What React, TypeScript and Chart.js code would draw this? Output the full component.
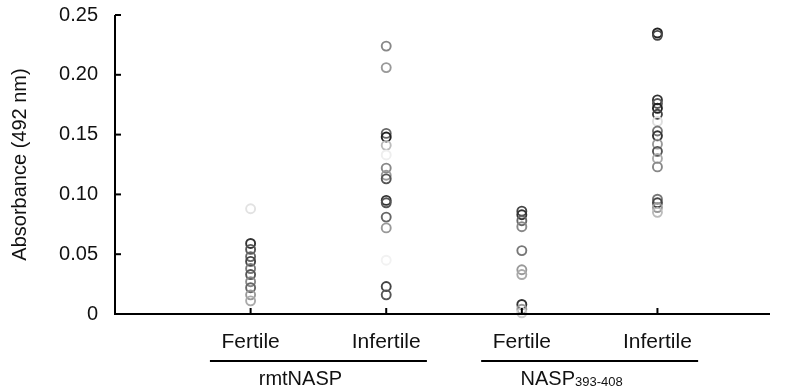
import React, { useEffect, useRef } from 'react';
import { Chart, registerables } from 'chart.js';

Chart.register(...registerables);

// ---- data ----
const categories = ['Fertile', 'Infertile', 'Fertile', 'Infertile'];
const groupNames = ['rmtNASP', 'NASP'];
const groupSubscripts = ['', '393-408'];
const yTickValues = [0, 0.05, 0.1, 0.15, 0.2, 0.25];
const yTitle = 'Absorbance (492 nm)';

const fertileRmt = [0.088, 0.059, 0.054, 0.048, 0.044, 0.038, 0.033, 0.027, 0.022, 0.016, 0.011];
const infertileRmt = [0.224, 0.206, 0.151, 0.148, 0.141, 0.133, 0.122, 0.116, 0.113, 0.095, 0.093, 0.081, 0.072, 0.045, 0.023, 0.016];
const fertileNasp = [0.086, 0.083, 0.078, 0.073, 0.053, 0.037, 0.033, 0.008, 0.004, 0.001];
const infertileNasp = [0.235, 0.233, 0.179, 0.176, 0.172, 0.167, 0.161, 0.153, 0.149, 0.142, 0.136, 0.13, 0.123, 0.096, 0.093, 0.089, 0.085];

// ---- styles (grey level of each marker) ----
const shadesFertileRmt = ['#e2e2e2', '#333', '#555', '#666', '#444', '#777', '#555', '#888', '#666', '#999', '#aaa'];
const shadesInfertileRmt = ['#888', '#999', '#666', '#222', '#bbb', '#eee', '#888', '#999', '#555', '#333', '#555', '#666', '#999', '#f2f2f2', '#444', '#555'];
const shadesFertileNasp = ['#444', '#333', '#666', '#888', '#777', '#999', '#aaa', '#333', '#999', '#ccc'];
const shadesInfertileNasp = ['#222', '#444', '#333', '#555', '#222', '#444', '#ddd', '#777', '#333', '#999', '#555', '#aaa', '#888', '#777', '#444', '#999', '#bbb'];

const series = [fertileRmt, infertileRmt, fertileNasp, infertileNasp];
const shades = [shadesFertileRmt, shadesInfertileRmt, shadesFertileNasp, shadesInfertileNasp];

const FONT = '"Liberation Sans", Arial, sans-serif';
const FS = 20;

const axesPlugin = {
  id: 'customAxes',
  afterDraw(chart: any) {
    const { ctx, chartArea } = chart;
    const xs = chart.scales.x;
    const ys = chart.scales.y;
    const left = chartArea.left;
    const bottom = chartArea.bottom;
    ctx.save();
    ctx.strokeStyle = '#000';
    ctx.lineWidth = 2;
    ctx.beginPath();
    ctx.moveTo(left, ys.getPixelForValue(0.25));
    ctx.lineTo(left, bottom);
    ctx.lineTo(chartArea.right, bottom);
    ctx.stroke();
    yTickValues.forEach((v) => {
      const y = ys.getPixelForValue(v);
      ctx.beginPath();
      ctx.moveTo(left, y);
      ctx.lineTo(left + 6, y);
      ctx.stroke();
    });
    categories.forEach((_, i) => {
      const x = xs.getPixelForValue(i + 1);
      ctx.beginPath();
      ctx.moveTo(x, bottom);
      ctx.lineTo(x, bottom - 6);
      ctx.stroke();
    });
    ctx.fillStyle = '#111';
    ctx.font = `21px ${FONT}`;
    ctx.textAlign = 'center';
    ctx.textBaseline = 'middle';
    categories.forEach((c, i) => {
      ctx.fillText(c, xs.getPixelForValue(i + 1), bottom + 28);
    });
    groupNames.forEach((g, gi) => {
      const c = 1.5 + gi * 2;
      const x0 = xs.getPixelForValue(c - 0.8);
      const x1 = xs.getPixelForValue(c + 0.8);
      ctx.beginPath();
      ctx.moveTo(x0, bottom + 47);
      ctx.lineTo(x1, bottom + 47);
      ctx.stroke();
      const cx = xs.getPixelForValue(c) - 18;
      const sub = groupSubscripts[gi];
      ctx.font = `${FS}px ${FONT}`;
      const w1 = ctx.measureText(g).width;
      ctx.font = `13px ${FONT}`;
      const w2 = sub ? ctx.measureText(sub).width : 0;
      const start = cx - (w1 + w2) / 2;
      ctx.textAlign = 'left';
      ctx.textBaseline = 'alphabetic';
      ctx.font = `${FS}px ${FONT}`;
      ctx.fillText(g, start, bottom + 71);
      if (sub) {
        ctx.font = `13px ${FONT}`;
        ctx.fillText(sub, start + w1, bottom + 72);
      }
    });
    ctx.restore();
  },
};

export default function App() {
  const ref = useRef<HTMLCanvasElement | null>(null);
  useEffect(() => {
    document.body.style.margin = '0';
    if (!ref.current) return;
    const datasets = series.map((vals, i) => ({
      label: `${categories[i]}-${i}`,
      data: vals.map((v) => ({ x: i + 1, y: v })),
      showLine: false,
      pointRadius: 4.5,
      pointBorderWidth: 1.9,
      pointBackgroundColor: 'rgba(0,0,0,0)',
      pointBorderColor: shades[i],
      clip: false as any,
    }));
    const chart = new Chart(ref.current, {
      type: 'scatter',
      data: { datasets },
      plugins: [axesPlugin],
      options: {
        animation: false,
        responsive: true,
        maintainAspectRatio: false,
        layout: { padding: { top: 15, right: 18, left: 0, bottom: 0 } },
        plugins: { legend: { display: false }, tooltip: { enabled: false } },
        scales: {
          x: {
            type: 'linear',
            min: 0,
            max: 4.83,
            ticks: { display: false },
            grid: { display: false },
            border: { display: false },
            afterFit: (s: any) => { s.height = 73; s.paddingLeft = 0; s.paddingRight = 0; },
          },
          y: {
            type: 'linear',
            min: 0,
            max: 0.25,
            afterBuildTicks: (s: any) => { s.ticks = yTickValues.map((v) => ({ value: v })); },
            ticks: {
              padding: 17,
              color: '#111',
              font: { family: FONT, size: FS },
              callback: (v: any) => (Number(v) === 0 ? '0' : Number(v).toFixed(2)),
            },
            grid: { display: false, drawTicks: false },
            border: { display: false },
            title: {
              display: true,
              text: yTitle,
              color: '#111',
              font: { family: FONT, size: FS },
              padding: { top: 8, bottom: 0 },
            },
            afterFit: (s: any) => { s.width = 115; s.paddingTop = 0; s.paddingBottom = 0; },
          },
        },
      },
    });
    return () => chart.destroy();
  }, []);
  return (
    <div style={{ width: 788, height: 387, position: 'relative' }}>
      <canvas ref={ref} />
    </div>
  );
}
